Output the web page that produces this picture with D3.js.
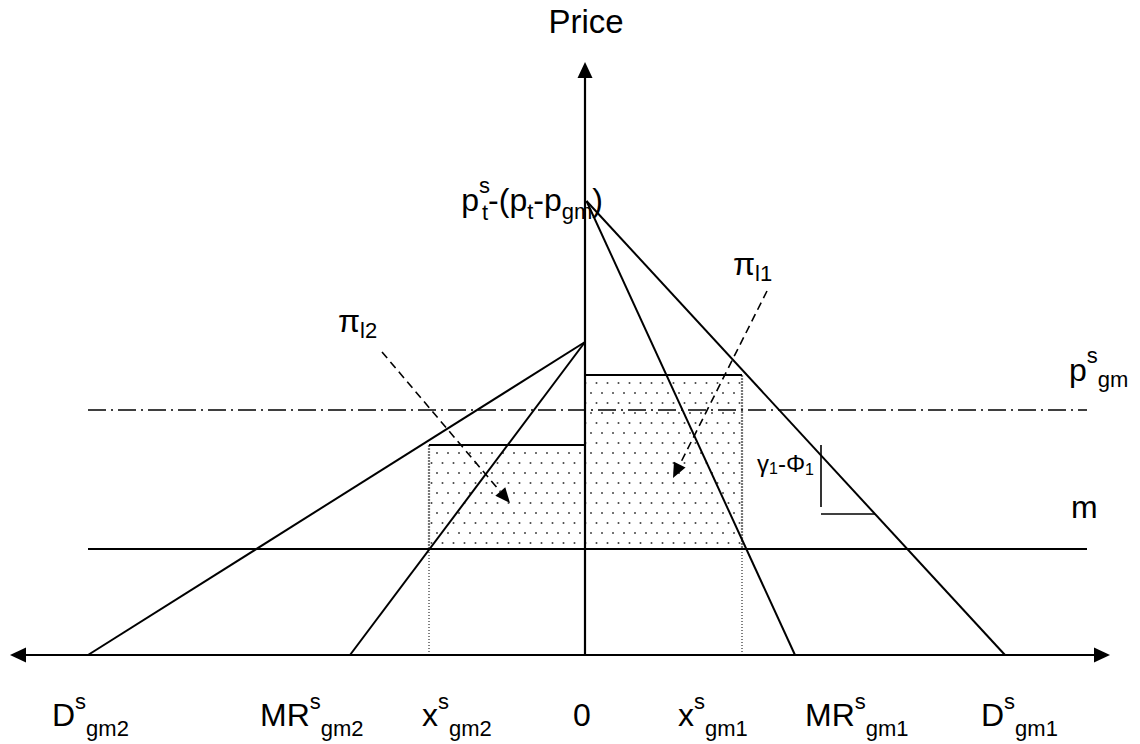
<!DOCTYPE html>
<html><head><meta charset="utf-8">
<script src="https://cdn.jsdelivr.net/npm/d3@7"></script>
<style>
html,body{margin:0;padding:0;background:#fff;}
svg{display:block;font-family:"Liberation Sans",Arial,sans-serif;}
</style></head>
<body>
<svg id="c" width="1140" height="744"></svg>
<script>
// ---- data (abstract quantity / price units) ----
const quantityNames   = ["D", "MR", "x", "0", "x", "MR", "D"];
const quantitySup     = ["s", "s", "s", "", "s", "s", "s"];
const quantitySub     = ["gm2", "gm2", "gm2", "", "gm1", "gm1", "gm1"];
const quantityValues  = [-4.97, -2.35, -1.56, 0, 1.57, 2.10, 4.20];

const intercept1 = 4.54;   // p^s_t-(p_t-p_gm): choke price market 1
const intercept2 = 3.13;   // choke price market 2
const demand1End = 4.20, mr1End = 2.10;
const demand2End = -4.97, mr2End = -2.35;
const priceM = 1.06;       // m
const pricePsgm = 2.45;    // p^s_gm
const priceRect1 = 2.80;   // profit rectangle market 1 top
const priceRect2 = 2.10;   // profit rectangle market 2 top
const xGm1 = 1.57, xGm2 = -1.56;

// ---- scales ----
const svg = d3.select("#c");
const x = d3.scaleLinear().domain([-5.75, 5.25]).range([10, 1110]);
const y = d3.scaleLinear().domain([0, 5.93]).range([655, 62]);

// dotted fill pattern
const defs = svg.append("defs");
const pat = defs.append("pattern").attr("id","dots").attr("patternUnits","userSpaceOnUse")
  .attr("width",11).attr("height",20);
pat.append("rect").attr("width",11).attr("height",20).attr("fill","#fff");
pat.append("circle").attr("cx",2.5).attr("cy",3).attr("r",1).attr("fill","#444");
pat.append("circle").attr("cx",8).attr("cy",13).attr("r",1).attr("fill","#444");

// rectangles
const rects = [
  {x0: 0, x1: xGm1, top: priceRect1},
  {x0: xGm2, x1: 0, top: priceRect2}
];
svg.selectAll("rect.profit").data(rects).enter().append("rect")
  .attr("class","profit")
  .attr("x", d => x(d.x0)).attr("width", d => x(d.x1) - x(d.x0))
  .attr("y", d => y(d.top)).attr("height", d => y(priceM) - y(d.top))
  .attr("fill","url(#dots)");
// rectangle outer sides (grey) and tops (black)
[[xGm1, priceRect1],[xGm2, priceRect2]].forEach(s => {
  svg.append("line").attr("x1",x(s[0])).attr("x2",x(s[0])).attr("y1",y(s[1])).attr("y2",y(priceM))
    .attr("stroke","#777").attr("stroke-width",2.2).attr("stroke-dasharray","2,1");
});
rects.forEach(d => {
  svg.append("line").attr("x1",x(d.x0)).attr("x2",x(d.x1)).attr("y1",y(d.top)).attr("y2",y(d.top))
    .attr("stroke","#000").attr("stroke-width",2);
});

// dotted drops to the axis
[xGm2, xGm1].forEach(v => {
  svg.append("line").attr("x1",x(v)).attr("x2",x(v)).attr("y1",y(priceM)).attr("y2",y(0))
    .attr("stroke","#000").attr("stroke-width",1).attr("stroke-dasharray","1,2");
});

// horizontal levels
svg.append("line").attr("x1",x(-4.97)).attr("x2",x(5.02)).attr("y1",y(priceM)).attr("y2",y(priceM))
  .attr("stroke","#000").attr("stroke-width",2);
svg.append("line").attr("x1",x(-4.97)).attr("x2",x(5.02)).attr("y1",y(pricePsgm)).attr("y2",y(pricePsgm))
  .attr("stroke","#000").attr("stroke-width",1.6).attr("stroke-dasharray","18,5,2,5");

// demand & MR lines
const lines = [
  [[0.015, intercept1],[demand1End, 0]],
  [[0.015, intercept1],[mr1End, 0]],
  [[0, intercept2],[demand2End, 0]],
  [[0, intercept2],[mr2End, 0]]
];
const lg = d3.line().x(d => x(d[0])).y(d => y(d[1]));
svg.selectAll("path.ln").data(lines).enter().append("path").attr("class","ln")
  .attr("d", lg).attr("fill","none").attr("stroke","#000").attr("stroke-width",2);

// axes
svg.append("line").attr("x1",x(-5.59)).attr("x2",x(5.09)).attr("y1",y(0)).attr("y2",y(0))
  .attr("stroke","#000").attr("stroke-width",2.2);
svg.append("line").attr("x1",x(0)).attr("x2",x(0)).attr("y1",y(0)).attr("y2",y(5.78))
  .attr("stroke","#000").attr("stroke-width",2.2);
function tri(tx, ty, ang, len, half){
  const bx = tx - len*Math.cos(ang), by = ty - len*Math.sin(ang);
  const px = -Math.sin(ang)*half, py = Math.cos(ang)*half;
  return `M${tx},${ty}L${bx+px},${by+py}L${bx-px},${by-py}Z`;
}
svg.append("path").attr("d", tri(x(0), y(5.93), -Math.PI/2, 16, 7.5)).attr("fill","#000");
svg.append("path").attr("d", tri(x(-5.75), y(0), Math.PI, 16, 7.5)).attr("fill","#000");
svg.append("path").attr("d", tri(x(5.25), y(0), 0, 16, 7.5)).attr("fill","#000");

// dashed annotation arrows
const arrows = [
  {from:[-2.03, 3.03], to:[-0.75, 1.52]},
  {from:[1.82, 3.64], to:[0.88, 1.77]}
];
arrows.forEach(a => {
  const x1 = x(a.from[0]), y1 = y(a.from[1]), x2 = x(a.to[0]), y2 = y(a.to[1]);
  const ang = Math.atan2(y2-y1, x2-x1);
  const len = 15;
  svg.append("line").attr("x1",x1).attr("y1",y1)
    .attr("x2",x2 - len*Math.cos(ang)).attr("y2",y2 - len*Math.sin(ang))
    .attr("stroke","#000").attr("stroke-width",1.6).attr("stroke-dasharray","8,5");
  svg.append("path").attr("d", tri(x2, y2, ang, len, 6.5)).attr("fill","#000");
});

// slope bracket
svg.append("line").attr("x1",x(2.36)).attr("x2",x(2.36)).attr("y1",y(2.10)).attr("y2",y(1.48))
  .attr("stroke","#000").attr("stroke-width",1.6);
svg.append("line").attr("x1",x(2.36)).attr("x2",x(2.90)).attr("y1",y(1.41)).attr("y2",y(1.41))
  .attr("stroke","#000").attr("stroke-width",1.6);

// ---- text helper ----
function label(px, py, parts, anchor){
  const t = svg.append("text").attr("x",px).attr("y",py).attr("text-anchor",anchor||"start").attr("fill","#000");
  let cur = 0;
  parts.forEach(p => {
    const off = p.off || 0;
    const ts = t.append("tspan").attr("font-size", p.size).text(p.t);
    ts.attr("dy", off - cur);
    if (p.dx) ts.attr("dx", p.dx);
    cur = off;
  });
  return t;
}

// axis title
label(586, 33, [{t:"Price", size:33}], "middle");

// bottom labels
const bottomX = [52, 260, 422, 573, 678, 805, 981];
quantityNames.forEach((n, i) => {
  const parts = [{t:n, size:32}];
  if (quantitySup[i]) parts.push({t:quantitySup[i], size:22, off:-17});
  if (quantitySub[i]) parts.push({t:quantitySub[i], size:22, off:10});
  label(bottomX[i], 726, parts);
});

// top price label
label(603, 211, [
  {t:"p", size:32}, {t:"s", size:22, off:-18}, {t:"t", size:22, off:9, dx:-8},
  {t:"-(p", size:32, off:0}, {t:"t", size:22, off:8}, {t:"-p", size:32, off:0},
  {t:"gm", size:22, off:8}, {t:")", size:32, off:0}
], "end");

// p^s_gm and m
label(1069, 381, [{t:"p", size:32}, {t:"s", size:22, off:-18}, {t:"gm", size:22, off:6}]);
label(1071, 518, [{t:"m", size:32}]);

// profit labels
label(733, 275, [{t:"π", size:32}, {t:"l1", size:22, off:6}]);
label(338, 332, [{t:"π", size:32}, {t:"l2", size:22, off:6}]);

// slope label
label(757, 472, [{t:"γ", size:24}, {t:"1", size:16, off:2}, {t:"-Φ", size:24, off:0}, {t:"1", size:16, off:3}]);
</script>
</body></html>
